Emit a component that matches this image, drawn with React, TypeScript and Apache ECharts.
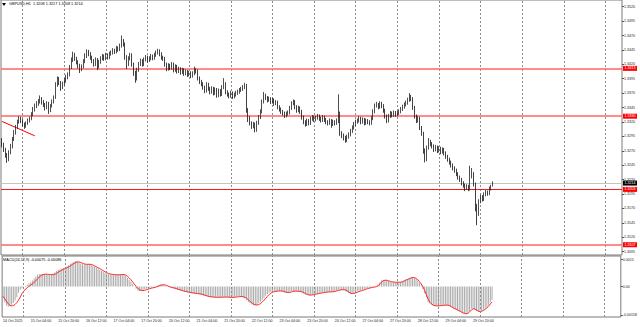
import { useEffect, useRef } from "react";
import * as echarts from "echarts";

const SYMBOL = "GBPUSD,H1";
const LAST_OHLC = ["1.3208", "1.3217", "1.3208", "1.3214"];
const MACD_NAME = "MACD(24,52,9)";
const MACD_LAST = ["-0.00075", "-0.00086"];

// one label every 16 hourly bars, starting at the first bar (14 Oct 12:00)
const TIME_LABELS = [
  "14 Oct 2025", "15 Oct 04:00", "15 Oct 20:00", "16 Oct 12:00", "17 Oct 04:00", "17 Oct 20:00",
  "20 Oct 12:00", "21 Oct 04:00", "21 Oct 20:00", "22 Oct 12:00", "23 Oct 04:00", "23 Oct 20:00",
  "24 Oct 12:00", "27 Oct 04:00", "27 Oct 20:00", "28 Oct 12:00", "29 Oct 04:00", "29 Oct 20:00",
];
const LABEL_EVERY = 16;
const GRID_EVERY = 24;
const GRID_OFFSET = 12;
const SLOT_COUNT = 358; // bars + empty room on the right

// [open, high, low, close] in pips above 1.3000
const CANDLES: number[][] = [
  [285,292,276,280],[280,284,268,272],[272,275,258,262],[262,266,249,255],[255,271,252,268],[268,282,264,277],
  [277,294,274,290],[290,306,287,302],[302,315,298,312],[312,324,308,320],[320,330,317,326],[326,329,318,322],
  [322,325,312,316],[316,319,308,313],[313,321,310,318],[318,326,315,322],[322,329,319,326],[326,337,323,333],
  [333,346,330,342],[342,352,338,348],[348,356,344,352],[352,360,348,356],[356,366,352,360],[360,363,350,355],
  [355,358,346,350],[350,353,340,345],[345,356,342,352],[352,355,334,340],[340,351,337,348],[348,359,345,356],
  [356,366,352,362],[362,389,360,385],[385,399,381,395],[395,398,384,388],[388,391,374,380],[380,390,377,386],
  [386,396,383,392],[392,402,388,398],[398,406,394,402],[402,419,399,415],[415,432,412,428],[428,442,424,436],
  [436,440,426,430],[430,433,420,424],[424,427,413,418],[418,421,405,412],[412,420,408,416],[416,429,413,425],
  [425,439,422,435],[435,446,431,442],[442,445,434,438],[438,441,428,432],[432,435,422,426],[426,429,416,420],
  [420,432,417,428],[428,431,410,416],[416,428,413,424],[424,434,421,430],[430,438,427,434],[434,437,426,430],
  [430,440,427,436],[436,439,428,432],[432,442,429,438],[438,444,435,440],[440,448,437,444],[444,447,438,442],
  [442,452,439,448],[448,451,442,446],[446,456,443,452],[452,470,449,460],[460,464,451,455],[455,458,428,432],
  [432,436,412,420],[420,434,417,430],[430,440,427,436],[436,439,416,420],[420,423,400,405],[405,409,388,395],
  [395,414,392,410],[410,424,407,420],[420,430,417,426],[426,429,416,420],[420,432,417,428],[428,436,425,432],
  [432,435,423,427],[427,434,424,430],[430,438,427,434],[434,437,427,431],[431,440,428,436],[436,444,433,440],
  [440,447,437,443],[443,446,434,438],[438,441,428,432],[432,435,426,430],[430,433,416,420],[420,423,408,412],
  [412,422,409,418],[418,421,410,414],[414,424,411,420],[420,423,406,410],[410,420,407,416],[416,419,404,408],
  [408,416,405,412],[412,415,402,406],[406,414,403,410],[410,413,400,404],[404,411,401,407],[407,410,398,402],
  [402,409,399,405],[405,408,396,400],[400,408,397,404],[404,416,401,410],[410,413,404,408],[408,411,392,396],
  [396,399,386,390],[390,393,382,386],[386,389,376,380],[380,383,370,374],[374,389,371,385],[385,388,374,378],
  [378,381,368,372],[372,382,369,378],[378,381,366,370],[370,380,367,376],[376,379,362,366],[366,378,363,374],
  [374,377,364,368],[368,384,365,380],[380,396,377,386],[386,389,368,372],[372,375,364,368],[368,371,361,365],
  [365,374,362,370],[370,373,360,364],[364,371,361,367],[367,374,364,370],[370,376,367,372],[372,379,369,375],
  [375,381,372,377],[377,384,374,380],[380,388,377,384],[384,386,336,340],[340,344,320,326],[326,330,314,318],
  [318,321,308,312],[312,320,309,316],[316,319,302,306],[306,322,303,318],[318,332,315,328],[328,342,325,338],
  [338,359,335,355],[355,372,352,366],[366,369,358,362],[362,365,354,358],[358,364,355,360],[360,363,351,355],
  [355,362,352,358],[358,361,348,352],[352,358,349,354],[354,357,342,346],[346,349,338,342],[342,345,334,338],
  [338,341,331,335],[335,338,327,331],[331,338,328,334],[334,340,331,336],[336,348,333,344],[344,356,341,352],
  [352,359,349,355],[355,358,342,346],[346,349,336,340],[340,348,337,344],[344,347,334,338],[338,341,324,328],
  [328,331,316,320],[320,323,312,316],[316,326,313,322],[322,325,314,318],[318,329,315,325],[325,332,322,328],
  [328,331,320,324],[324,331,321,327],[327,334,324,330],[330,333,322,326],[326,329,319,323],[323,332,320,328],
  [328,331,320,324],[324,327,316,320],[320,323,314,318],[318,326,315,322],[322,325,310,316],[316,324,313,320],
  [320,323,314,318],[318,326,315,322],[322,368,318,330],[330,338,296,300],[300,304,292,296],[296,300,288,292],
  [292,296,284,288],[288,298,285,294],[294,302,291,298],[298,308,295,304],[304,314,301,310],[310,320,307,316],
  [316,324,313,320],[320,326,317,322],[322,330,319,326],[326,329,316,320],[320,328,317,324],[324,327,314,318],
  [318,326,315,322],[322,325,316,320],[320,323,314,318],[318,330,315,326],[326,342,323,338],[338,352,335,348],
  [348,355,345,350],[350,353,342,346],[346,356,343,352],[352,355,344,348],[348,351,336,340],[340,343,326,330],
  [330,333,318,322],[322,334,319,330],[330,339,327,335],[335,338,328,332],[332,340,329,336],[336,339,329,333],
  [333,339,330,335],[335,342,332,338],[338,346,335,342],[342,350,339,346],[346,354,343,350],[350,357,347,353],
  [353,362,350,358],[358,370,355,364],[364,367,356,360],[360,363,341,345],[345,348,326,330],[330,333,318,322],
  [322,330,319,326],[326,329,306,310],[310,313,296,300],[300,303,265,270],[270,274,250,255],[255,279,252,275],
  [275,292,272,286],[286,289,278,282],[282,285,274,278],[278,281,268,272],[272,280,269,276],[276,279,266,270],
  [270,278,267,274],[274,277,264,268],[268,276,265,272],[272,275,262,266],[266,269,256,260],[260,263,251,255],
  [255,258,246,250],[250,253,241,245],[245,248,236,240],[240,243,232,236],[236,239,226,230],[230,233,220,224],
  [224,227,216,220],[220,223,210,214],[214,217,206,210],[210,213,200,205],[205,212,202,208],[208,211,200,204],
  [204,244,201,225],[225,240,222,230],[230,233,208,212],[212,215,165,175],[175,178,141,160],[160,186,157,182],
  [182,194,179,190],[190,193,182,186],[186,198,183,194],[194,202,191,198],[198,201,192,196],[196,208,193,204],
  [204,211,201,208],[208,217,208,214],
];
const PIP_BASE = 1.3;
const PIP = 0.0001;

// MACD main (histogram) and signal, in units of 0.00001
const MACD_MAIN = [
  -67,-88,-106,-113,-110,-102,-92,-78,-60,-35,-18,-10,-3,3,10,17,24,34,45,56,65,68,70,70,69,68,66,66,65,72,
  80,87,92,96,100,103,106,113,120,127,133,138,142,140,134,128,124,123,124,124,124,120,115,110,106,100,94,88,82,77,
  73,70,68,66,66,65,65,66,67,68,66,58,48,38,26,12,0,-12,-22,-25,-23,-20,-16,-13,-10,-8,-6,-5,-1,4,
  8,11,11,8,3,-2,-4,-6,-9,-12,-15,-18,-21,-24,-27,-29,-31,-33,-36,-37,-38,-40,-41,-42,-44,-47,-50,-53,-56,-58,
  -59,-60,-60,-61,-60,-60,-60,-59,-58,-59,-60,-61,-61,-60,-59,-57,-55,-55,-58,-62,-66,-76,-86,-94,-100,-104,-105,-100,-92,-84,
  -76,-64,-52,-42,-34,-31,-29,-27,-26,-25,-25,-27,-30,-34,-36,-33,-29,-26,-25,-26,-27,-27,-29,-34,-40,-45,-48,-49,-48,-46,
  -44,-42,-40,-38,-36,-35,-33,-32,-31,-30,-29,-29,-26,-22,-20,-18,-18,-18,-22,-30,-36,-40,-40,-36,-32,-28,-24,-22,-20,-16,
  -12,-9,-7,-5,-3,-1,0,10,22,33,36,36,34,30,27,24,24,24,24,24,24,28,34,39,42,46,50,51,48,40,
  33,20,5,-13,-38,-62,-86,-95,-102,-106,-108,-109,-108,-106,-105,-104,-104,-104,-108,-114,-120,-125,-127,-132,-138,-144,-149,-152,-153,-146,
  -136,-124,-122,-128,-136,-140,-140,-136,-130,-122,-115,-102,-88,-75,
];
const MACD_SIGNAL = [
  -55,-68,-82,-96,-105,-108,-106,-100,-90,-76,-58,-40,-26,-15,-7,1,8,15,23,32,43,53,61,66,68,69,68,67,66,66,
  68,73,80,86,91,96,100,104,109,115,122,128,133,137,137,134,130,126,124,124,124,123,120,115,110,105,100,94,88,82,
  77,73,70,68,67,66,65,65,66,66,67,64,57,48,38,26,13,1,-10,-18,-22,-23,-21,-18,-15,-12,-9,-7,-5,-2,
  2,6,9,10,8,5,1,-3,-6,-8,-11,-14,-17,-20,-23,-26,-28,-30,-32,-34,-36,-37,-39,-40,-41,-43,-46,-49,-52,-55,
  -57,-58,-59,-60,-60,-60,-60,-60,-59,-59,-59,-60,-60,-61,-60,-59,-58,-56,-56,-57,-60,-66,-74,-83,-91,-98,-102,-103,-101,-95,
  -87,-77,-66,-55,-45,-37,-32,-29,-27,-26,-25,-25,-26,-29,-32,-34,-33,-30,-27,-26,-26,-27,-27,-30,-34,-39,-44,-47,-48,-47,
  -45,-43,-41,-39,-37,-35,-34,-32,-31,-30,-30,-29,-28,-25,-22,-20,-18,-18,-19,-23,-30,-36,-39,-39,-36,-32,-28,-25,-22,-19,
  -15,-12,-9,-7,-5,-3,-1,4,14,24,32,35,35,32,29,26,25,24,24,24,24,26,30,35,39,43,47,50,50,45,
  38,28,14,-2,-22,-46,-70,-88,-98,-104,-107,-108,-108,-107,-106,-105,-104,-104,-105,-110,-116,-122,-126,-130,-135,-141,-146,-150,-152,-150,
  -142,-131,-124,-125,-131,-137,-140,-138,-134,-127,-119,-110,-97,-86,
];
const MACD_UNIT = 0.00001;

const PRICE_MIN = 1.30892;
const PRICE_MAX = 1.35316;
const PRICE_TICKS = [
  1.352, 1.3495, 1.347, 1.3445, 1.342, 1.3395, 1.337, 1.3345, 1.332,
  1.3295, 1.327, 1.3245, 1.322, 1.3195, 1.317, 1.3145, 1.312, 1.3095,
];
const LEVELS = [1.3413, 1.333, 1.3203, 1.3107];
const CURRENT_PRICE = 1.3214;
const TREND_LINE = [
  [0, 1.3321],
  [19, 1.3296],
];
const MACD_MIN = -0.0017;
const MACD_MAX = 0.0017;
const MACD_TICKS = [0.0015, 0, -0.00158];
const MACD_TICK_LABELS = ["0.0015", "0.00", "-0.00158"];

const FONT = "'Liberation Sans', Arial, sans-serif";

export default function App() {
  const ref = useRef<HTMLDivElement>(null);

  useEffect(() => {
    if (!ref.current) return;
    const chart = echarts.init(ref.current, undefined, { renderer: "svg" });

    const cats = Array.from({ length: SLOT_COUNT }, (_, i) => String(i));
    const candleData = CANDLES.map(([o, h, l, c]) => [
      +(PIP_BASE + o * PIP).toFixed(4),
      +(PIP_BASE + c * PIP).toFixed(4),
      +(PIP_BASE + l * PIP).toFixed(4),
      +(PIP_BASE + h * PIP).toFixed(4),
    ]);
    const macdMain = MACD_MAIN.map((v) => v * MACD_UNIT);
    const macdSignal = MACD_SIGNAL.map((v) => v * MACD_UNIT);

    // dashed vertical grid lines every GRID_EVERY bars
    const gridLines: any[] = [];
    for (let i = GRID_OFFSET; i < SLOT_COUNT; i += GRID_EVERY) {
      gridLines.push({
        xAxis: String(i),
        lineStyle: { color: "#8c8c8c", type: [2, 2], width: 1 },
        label: { show: false },
      });
    }

    const levelLines = LEVELS.map((v, i) => ({
      yAxis: v,
      lineStyle: {
        color: i === 2 ? "#ff1a1a" : "#ff6464",
        width: i === 2 ? 1.2 : 1.6,
        type: "solid",
      },
      label: {
        show: true,
        position: "end",
        distance: 1,
        formatter: v.toFixed(4),
        backgroundColor: "#ff0000",
        color: "#ffffff",
        padding: [0.5, 1.5],
        fontSize: 3.6,
        fontFamily: FONT,
      },
    }));

    const option: any = {
      animation: false,
      backgroundColor: "#ffffff",
      textStyle: { fontFamily: FONT },
      grid: [
        { left: 1, right: 18, top: 0, height: 255, show: true, borderColor: "#7a7a7a", borderWidth: 1 },
        { left: 1, right: 18, top: 256, height: 61, show: true, borderColor: "#7a7a7a", borderWidth: 1 },
      ],
      xAxis: [
        {
          type: "category",
          gridIndex: 0,
          data: cats,
          boundaryGap: true,
          axisLine: { show: false },
          axisTick: { show: false },
          axisLabel: { show: false },
          splitLine: { show: false },
        },
        {
          type: "category",
          gridIndex: 1,
          data: cats,
          boundaryGap: true,
          axisLine: { show: false },
          axisTick: { show: false },
          axisLabel: {
            show: true,
            interval: (i: number) => i % LABEL_EVERY === 0 && i / LABEL_EVERY < TIME_LABELS.length,
            formatter: (_v: string, i: number) => TIME_LABELS[Math.round(i / LABEL_EVERY)] ?? "",
            align: "left",
            fontSize: 3.6,
            color: "#222",
            margin: 2,
            fontFamily: FONT,
          },
          splitLine: { show: false },
        },
      ],
      yAxis: [
        {
          type: "value",
          gridIndex: 0,
          position: "right",
          min: PRICE_MIN,
          max: PRICE_MAX,
          splitLine: { show: false },
          axisLine: { show: false },
          axisTick: { show: true, customValues: PRICE_TICKS, length: 2, lineStyle: { color: "#555" } },
          axisLabel: {
            customValues: PRICE_TICKS,
            formatter: (v: number) => v.toFixed(4),
            fontSize: 3.6,
            color: "#222",
            margin: 2,
            fontFamily: FONT,
          },
        },
        {
          type: "value",
          gridIndex: 1,
          position: "right",
          min: MACD_MIN,
          max: MACD_MAX,
          splitLine: { show: false },
          axisLine: { show: false },
          axisTick: { show: true, customValues: MACD_TICKS, length: 2, lineStyle: { color: "#555" } },
          axisLabel: {
            customValues: MACD_TICKS,
            formatter: (v: number) => MACD_TICK_LABELS[MACD_TICKS.findIndex((t) => Math.abs(t - v) < 1e-7)] ?? "",
            fontSize: 3.6,
            color: "#222",
            margin: 2,
            fontFamily: FONT,
          },
        },
      ],
      series: [
        {
          type: "candlestick",
          xAxisIndex: 0,
          yAxisIndex: 0,
          data: candleData,
          barWidth: 1,
          itemStyle: {
            color: "#ffffff",
            color0: "#111111",
            borderColor: "#222222",
            borderColor0: "#111111",
            borderWidth: 0.8,
          },
          markLine: {
            silent: true,
            symbol: ["none", "none"],
            precision: 4,
            z: 1,
            data: [
              ...gridLines,
              {
                yAxis: CURRENT_PRICE,
                lineStyle: { color: "#c4c4c4", width: 1, type: "solid" },
                label: {
                  show: true,
                  position: "end",
                  distance: 1,
                  formatter: CURRENT_PRICE.toFixed(4),
                  backgroundColor: "#000000",
                  color: "#ffffff",
                  padding: [0.5, 1.5],
                  fontSize: 3.6,
                  fontFamily: FONT,
                },
              },
              ...levelLines,
              [
                {
                  coord: [String(TREND_LINE[0][0]), TREND_LINE[0][1]],
                  lineStyle: { color: "#ff0000", width: 1, type: "solid" },
                  label: { show: false },
                },
                { coord: [String(TREND_LINE[1][0]), TREND_LINE[1][1]] },
              ],
            ],
          },
        },
        {
          type: "bar",
          xAxisIndex: 1,
          yAxisIndex: 1,
          data: macdMain,
          barWidth: 1,
          itemStyle: { color: "#a9a9a9" },
          markLine: {
            silent: true,
            symbol: ["none", "none"],
            data: gridLines,
          },
        },
        {
          type: "line",
          xAxisIndex: 1,
          yAxisIndex: 1,
          data: macdSignal,
          showSymbol: false,
          lineStyle: { color: "#ff2a2a", width: 1 },
        },
      ],
      graphic: [
        {
          type: "polygon",
          shape: { points: [[2, 3], [6, 3], [4, 6]] },
          style: { fill: "#000" },
        },
        {
          type: "text",
          left: 9,
          top: 2,
          style: {
            text: `${SYMBOL}  ${LAST_OHLC.join(" ")}`,
            fontSize: 3.8,
            fill: "#000",
            fontFamily: FONT,
          },
        },
        {
          type: "text",
          left: 3,
          top: 258,
          style: {
            text: `${MACD_NAME} ${MACD_LAST.join(" ")}`,
            fontSize: 3.8,
            fill: "#000",
            fontFamily: FONT,
          },
        },
      ],
    };

    chart.setOption(option);
    return () => chart.dispose();
  }, []);

  return (
    <div
      ref={ref}
      style={{ position: "fixed", left: 0, top: 0, width: 640, height: 327, background: "#fff" }}
    />
  );
}
